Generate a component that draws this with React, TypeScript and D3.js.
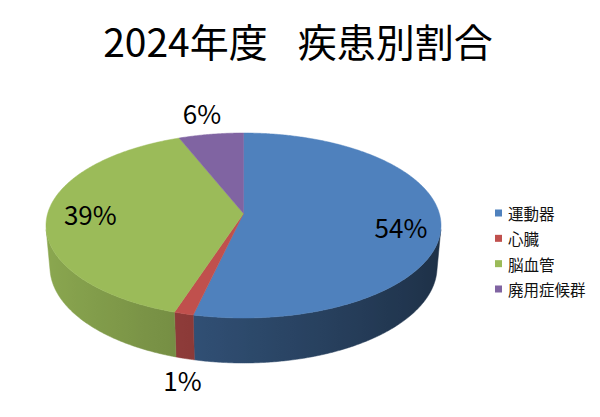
import * as d3 from "d3";
import React from "react";

// chart data
const titleYear = "2024年度　";
const titleMain = "疾患別割合";
const categories = ["運動器", "心臓", "脳血管", "廃用症候群"];
const values = [53.6, 1.4, 39.0, 6.0];
const colors = ["#4F81BD", "#C0504D", "#9BBB59", "#8064A2"];

const W = 600;
const H = 417;
const FONT = "'Noto Sans CJK JP', 'Noto Sans', sans-serif";

// 3D view settings (Excel-like perspective pie)
const PHI = (30 * Math.PI) / 180;
const CENTER_RATIO = 0.435; // where the pie centre falls between top and bottom of the top face
const box = { x0: 46, x1: 441, y0: 133, y1: 318, depth: 45 };
const sideBase = [0.57, 0.68, 0.7, 0.62]; // wall brightness per colour

const cphi = Math.cos(PHI);
const sphi = Math.sin(PHI);
const dist = cphi / (1 - 2 * CENTER_RATIO);

// raw perspective projection, y up in world, returns screen y down
function rawProject(x: number, y: number, z: number): [number, number] {
  const vy = y - dist * sphi;
  const vz = z - dist * cphi;
  const depth = -vy * sphi - vz * cphi;
  const up = vy * cphi - vz * sphi;
  return [x / depth, -up / depth];
}

const rad = (a: number) => (a * Math.PI) / 180;
const circ = (r: number, deg: number, y: number): [number, number, number] => [
  r * Math.sin(rad(deg)),
  y,
  -r * Math.cos(rad(deg)),
];

const ring = d3.range(0, 360, 0.5).map((a) => rawProject(...circ(1, a, 0)));
const sx = d3.scaleLinear().domain(d3.extent(ring, (p) => p[0]) as [number, number]).range([box.x0, box.x1]);
const sy = d3.scaleLinear().domain(d3.extent(ring, (p) => p[1]) as [number, number]).range([box.y0, box.y1]);

function proj(r: number, deg: number, y: number): [number, number] {
  const [px, py] = rawProject(...circ(r, deg, y));
  return [sx(px), sy(py)];
}

// find thickness so that the front wall is box.depth pixels tall
let lo = 0;
let hi = 1;
for (let i = 0; i < 40; i++) {
  const mid = (lo + hi) / 2;
  const d = proj(1, 180, -mid)[1] - proj(1, 180, 0)[1];
  if (d < box.depth) lo = mid;
  else hi = mid;
}
const THICK = (lo + hi) / 2;

// visible part of the outer wall: cos(a) < -1/(dist*cos(phi))
const visHalf = (Math.acos(-1 / (dist * cphi)) * 180) / Math.PI;
const vis0 = visHalf;
const vis1 = 360 - visHalf;

const total = d3.sum(values);
const angle = d3.scaleLinear().domain([0, total]).range([0, 360]);
const cum = values.map((_, i) => d3.sum(values.slice(0, i)));
const slices = values.map((v, i) => ({
  a0: angle(cum[i]),
  a1: angle(cum[i] + v),
  color: colors[i],
  label: `${Math.round((v / total) * 100)}%`,
}));

// label placement: radius, plane and extra nudge per slice
const labelPos = [
  { r: 0.8, y: 0, dy: 5 },
  { r: 1.04, y: -1, dy: 16 },
  { r: 0.78, y: 0, dy: -2 },
  { r: 1.32, y: 0, dy: 0 },
];

const line = d3.line();

function shade(i: number, deg: number) {
  const k = sideBase[i] - 0.2 * Math.sin(rad(deg));
  const c = d3.rgb(colors[i]);
  return d3.rgb(c.r * k, c.g * k, c.b * k).formatHex();
}

function arcPts(a0: number, a1: number, y: number, step = 0.5) {
  return d3.range(a0, a1, step).concat([a1]).map((a) => proj(1, a, y));
}

export default function App() {
  const gradAngles = d3.range(vis1, vis0, -2).concat([vis0]);

  const sides = slices
    .map((s, i) => {
      const a0 = Math.max(s.a0, vis0);
      const a1 = Math.min(s.a1, vis1);
      if (a1 <= a0) return null;
      const top = arcPts(a0, a1, 0);
      const bottom = arcPts(a0, a1, -THICK).reverse();
      return { d: line([...top, ...bottom]) + "Z", id: `side${i}` };
    })
    .filter(Boolean) as { d: string; id: string }[];

  const tops = slices.map((s) => ({
    d: line([proj(0, 0, 0), ...arcPts(s.a0, s.a1, 0)]) + "Z",
    fill: s.color,
  }));

  const legendY = d3.scalePoint().domain(categories).range([213, 289]);

  return (
    <div style={{ position: "absolute", left: 0, top: 0 }}>
      <svg width={W} height={H} viewBox={`0 0 ${W} ${H}`} style={{ display: "block", background: "#fff" }}>
        <defs>
          {slices.map((s, i) => (
            <linearGradient key={i} id={`side${i}`} gradientUnits="userSpaceOnUse" x1={0} x2={W} y1={0} y2={0}>
              {gradAngles.map((a, j) => (
                <stop key={j} offset={proj(1, a, 0)[0] / W} stopColor={shade(i, a)} />
              ))}
            </linearGradient>
          ))}
        </defs>

        <text x={298} y={57} textAnchor="middle" fontFamily={FONT} fontSize={39} fill="#000">
          {titleYear}
          <tspan dx={-9}>{titleMain}</tspan>
        </text>

        {/* outer wall */}
        {sides.map((q) => (
          <path key={q.id} d={q.d} fill={`url(#${q.id})`} stroke={`url(#${q.id})`} strokeWidth={0.5} />
        ))}

        {/* top face */}
        {tops.map((t, i) => (
          <path key={i} d={t.d} fill={t.fill} stroke={t.fill} strokeWidth={0.5} />
        ))}

        {/* data labels */}
        {slices.map((s, i) => {
          const lp = labelPos[i];
          const [lx, ly] = proj(lp.r, (s.a0 + s.a1) / 2, lp.y * THICK);
          return (
            <text
              key={i}
              x={lx}
              y={ly + lp.dy}
              textAnchor="middle"
              dominantBaseline="central"
              fontFamily={FONT}
              fontSize={26}
              fill="#000"
            >
              {s.label}
            </text>
          );
        })}

        {/* legend */}
        {categories.map((c, i) => (
          <g key={c} transform={`translate(495,${legendY(c)})`}>
            <rect x={0} y={-3.5} width={7} height={7} fill={colors[i]} />
            <text x={13} y={0} dominantBaseline="central" fontFamily={FONT} fontSize={15.5} fill="#111">
              {c}
            </text>
          </g>
        ))}
      </svg>
    </div>
  );
}
